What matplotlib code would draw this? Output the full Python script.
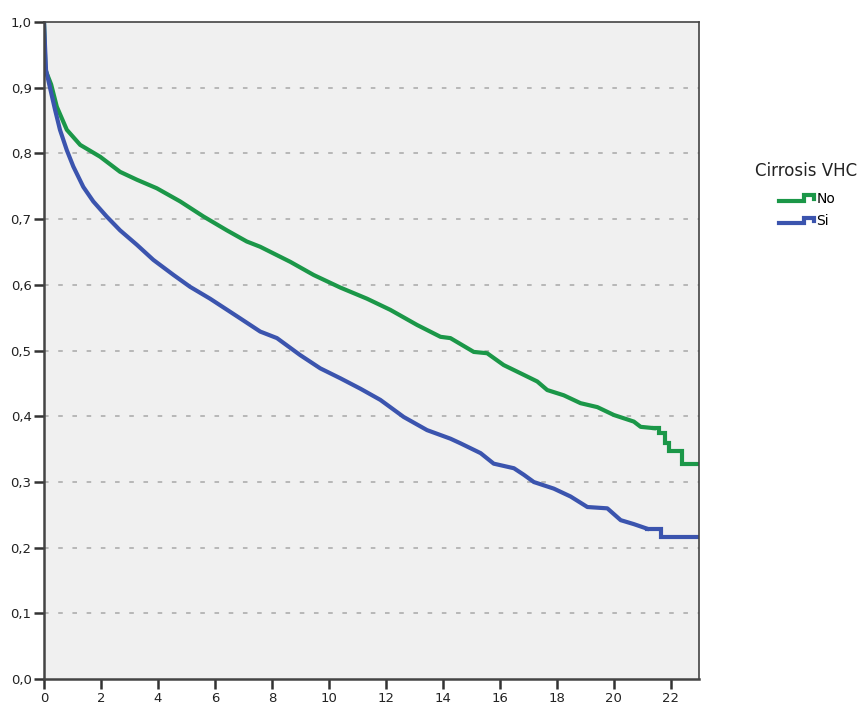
"""
plot.py

Kaplan-Meier style survival curves by Cirrosis VHC group.
"""

import matplotlib.pyplot as plt
from matplotlib.legend_handler import HandlerBase
from matplotlib.lines import Line2D


# survival estimates (time in years, cumulative survival)
# the dense part of each curve (many tiny steps, drawn as a line)
time_no = [0.0, 0.05, 0.25, 0.45, 0.80, 1.27, 1.97, 2.67, 3.26, 3.96, 4.78,
           5.60, 6.42, 7.12, 7.59, 8.65, 9.47, 10.40, 11.34, 12.16, 13.10,
           13.92, 14.27, 15.09, 15.56, 16.14, 16.85, 17.32, 17.67, 18.25,
           18.84, 19.43, 20.01, 20.71, 20.95, 21.42]
surv_no = [1.0, 0.927, 0.905, 0.871, 0.836, 0.813, 0.795, 0.772, 0.760, 0.747,
           0.727, 0.704, 0.683, 0.666, 0.658, 0.635, 0.615, 0.596, 0.579,
           0.562, 0.539, 0.521, 0.519, 0.498, 0.496, 0.478, 0.463, 0.453,
           0.440, 0.432, 0.420, 0.414, 0.402, 0.392, 0.384, 0.382]

time_si = [0.0, 0.07, 0.21, 0.39, 0.56, 0.80, 1.03, 1.38, 1.73, 2.20, 2.67,
           3.26, 3.84, 4.55, 5.13, 5.83, 6.89, 7.59, 8.18, 9.00, 9.70, 10.40,
           11.11, 11.81, 12.63, 13.45, 14.27, 14.62, 15.33, 15.79, 16.50,
           16.85, 17.20, 17.90, 18.49, 19.08, 19.78, 20.25, 20.71, 21.18]
surv_si = [1.0, 0.927, 0.900, 0.866, 0.836, 0.805, 0.780, 0.749, 0.727, 0.704,
           0.683, 0.661, 0.638, 0.615, 0.597, 0.579, 0.549, 0.529, 0.519,
           0.493, 0.473, 0.458, 0.442, 0.425, 0.399, 0.379, 0.366, 0.359,
           0.344, 0.328, 0.321, 0.311, 0.300, 0.290, 0.278, 0.262, 0.260,
           0.242, 0.236, 0.229]

# the sparse tail (visible steps), level starts at each time
tail_time_no = [21.42, 21.60, 21.80, 21.95, 22.41, 23.0]
tail_surv_no = [0.382, 0.374, 0.359, 0.347, 0.328, 0.328]
tail_time_si = [21.18, 21.65, 23.0]
tail_surv_si = [0.229, 0.216, 0.216]

groups = ["No", "Si"]
colors = ["#1b9748", "#3b54ae"]

x_ticks = list(range(0, 23, 2))
y_ticks = [i / 10 for i in range(11)]


class StepHandler(HandlerBase):
    # small step-shaped legend key, like SPSS survival plots
    def create_artists(self, legend, orig_handle, xdescent, ydescent,
                       width, height, fontsize, trans):
        x0 = -xdescent
        lo = -ydescent + height * 0.2
        hi = -ydescent + height * 0.8
        xs = [x0, x0 + width * 0.72, x0 + width * 0.72, x0 + width, x0 + width]
        ys = [lo, lo, hi, hi, hi - height * 0.35]
        line = Line2D(xs, ys, color=orig_handle.get_color(),
                      lw=orig_handle.get_linewidth(), solid_joinstyle="miter")
        line.set_transform(trans)
        return [line]


fig = plt.figure(figsize=(8.63, 7.09), dpi=100)
ax = fig.add_axes([0.051, 0.042, 0.759, 0.927])
ax.set_facecolor("#f0f0f0")

handles = []
curves = [(time_no, surv_no, tail_time_no, tail_surv_no),
          (time_si, surv_si, tail_time_si, tail_surv_si)]
for (t, s, tt, ts), lab, col in zip(curves, groups, colors):
    h, = ax.plot(t, s, color=col, lw=3.0, label=lab)
    ax.step(tt, ts, where="post", color=col, lw=3.0, solid_joinstyle="miter")
    handles.append(h)

for y in y_ticks[1:-1]:
    ax.axhline(y, color="#a8a8a8", lw=1.1, dashes=(3, 6.3), zorder=0)

ax.set_xlim(0, 23)
ax.set_ylim(0, 1.0)
ax.set_xticks(x_ticks)
ax.set_yticks(y_ticks)
ax.set_yticklabels([f"{v:.1f}".replace(".", ",") for v in y_ticks])
ax.tick_params(direction="out", length=7, width=1.8, color="#333333",
               labelsize=9.5, labelcolor="#222222", pad=2)
for sp in ax.spines.values():
    sp.set_color("#444444")
    sp.set_linewidth(1.2)
ax.spines["left"].set_linewidth(1.8)
ax.spines["bottom"].set_linewidth(1.8)

fig.text(806 / 863, 1 - 171 / 709, "Cirrosis VHC", ha="center", va="center",
         fontsize=12, color="#222222")
fig.legend(handles, groups, loc="upper left",
           bbox_to_anchor=(779 / 863, 1 - 192 / 709),
           frameon=False, fontsize=10, handlelength=2.5, handletextpad=0.2,
           labelspacing=0.6, borderaxespad=0, borderpad=0,
           handler_map={Line2D: StepHandler()})

fig.savefig("out.png", dpi=100)
